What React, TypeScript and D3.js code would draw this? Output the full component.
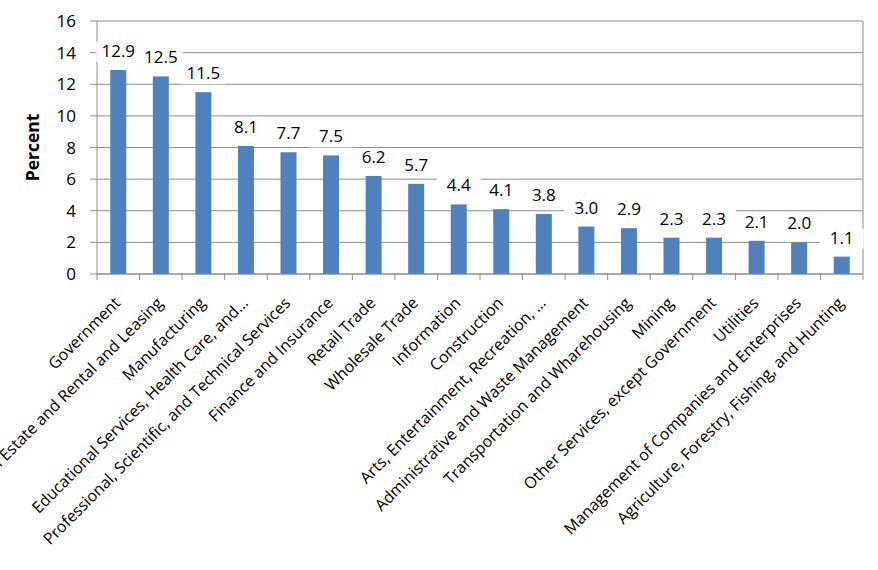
import React from "react";
import * as d3 from "d3";

const categories = [
  "Government",
  "Real Estate and Rental and Leasing",
  "Manufacturing",
  "Educational Services, Health Care, and…",
  "Professional, Scientific, and Technical Services",
  "Finance and Insurance",
  "Retail Trade",
  "Wholesale Trade",
  "Information",
  "Construction",
  "Arts, Entertainment, Recreation, …",
  "Administrative and Waste Management",
  "Transportation and Wharehousing",
  "Mining",
  "Other Services, except Government",
  "Utilities",
  "Management of Companies and Enterprises",
  "Agriculture, Forestry, Fishing, and Hunting",
];
const values = [12.9, 12.5, 11.5, 8.1, 7.7, 7.5, 6.2, 5.7, 4.4, 4.1, 3.8, 3.0, 2.9, 2.3, 2.3, 2.1, 2.0, 1.1];
const yTicks = [0, 2, 4, 6, 8, 10, 12, 14, 16];
const yTitle = "Percent";

const W = 878;
const H = 570;
const left = 97;
const right = 863;
const top = 21;
const bottom = 274;
const FONT = "'Open Sans', sans-serif";

export default function App() {
  const x = d3.scaleBand<string>().domain(categories).range([left, right]).paddingInner(0).paddingOuter(0);
  const y = d3.scaleLinear().domain([0, 16]).range([bottom, top]);
  const bw = 16;
  const grid = "#8c8c8c";
  return (
    <div style={{ position: "absolute", left: 0, top: 0 }}>
      <svg width={W} height={H} style={{ display: "block", background: "#fff" }}>
        {yTicks.map((t) => (
          <line key={"g" + t} x1={left} x2={right} y1={y(t)} y2={y(t)} stroke={grid} strokeWidth={1} />
        ))}
        <line x1={right} x2={right} y1={top} y2={bottom} stroke={grid} />
        <line x1={left} x2={left} y1={top} y2={bottom + 0.5} stroke={grid} />
        {yTicks.map((t) => (
          <g key={"yt" + t}>
            <line x1={left - 7} x2={left} y1={y(t)} y2={y(t)} stroke={grid} />
            <text x={76} y={y(t)} dy="0.36em" textAnchor="end" fontFamily={FONT} fontSize={17} fill="#000">
              {t}
            </text>
          </g>
        ))}
        {categories.map((c, i) => (
          <line key={"xt" + i} x1={x(c)!} x2={x(c)!} y1={bottom} y2={bottom + 6} stroke={grid} />
        ))}
        <line x1={right} x2={right} y1={bottom} y2={bottom + 6} stroke={grid} />
        {categories.map((c, i) => (
          <rect
            key={"b" + i}
            x={x(c)! + x.bandwidth() / 2 - bw / 2}
            y={y(values[i])}
            width={bw}
            height={bottom - y(values[i])}
            fill="#4F81BD"
          />
        ))}
        {categories.map((c, i) => {
          const cx = x(c)! + x.bandwidth() / 2;
          const ty = y(values[i]) - 13;
          return (
            <g key={"l" + i}>
              <rect x={cx - 22} y={ty - 15} width={44} height={20} fill="#fff" />
              <text x={cx} y={ty} textAnchor="middle" fontFamily={FONT} fontSize={17} fill="#000">
                {values[i].toFixed(1)}
              </text>
            </g>
          );
        })}
        <line x1={left} x2={right} y1={bottom} y2={bottom} stroke={grid} />
        {categories.map((c, i) => {
          const cx = x(c)! + x.bandwidth() / 2 + 3;
          const cy = 304;
          return (
            <text
              key={"c" + i}
              transform={`translate(${cx},${cy}) rotate(-45)`}
              textAnchor="end"
              fontFamily={FONT}
              fontSize={16}
              fill="#000"
            >
              {c}
            </text>
          );
        })}
        <text
          transform={`translate(39,147.5) rotate(-90)`}
          textAnchor="middle"
          fontFamily={FONT}
          fontSize={17.5}
          fontWeight="bold"
          fill="#000"
        >
          {yTitle}
        </text>
      </svg>
    </div>
  );
}
